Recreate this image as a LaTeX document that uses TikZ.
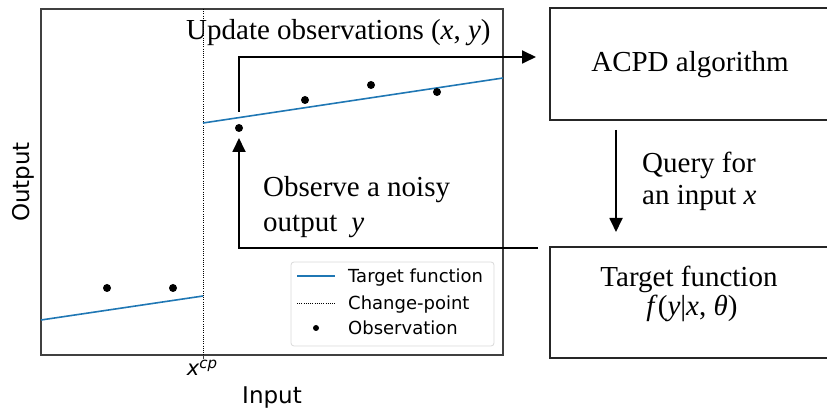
\documentclass[tikz,border=0pt]{standalone}
\usepackage{fontspec}
\setmainfont{Liberation Serif}
\newfontfamily\mplfont{DejaVu Sans}
\usetikzlibrary{arrows.meta}
\tikzset{
  serif/.style={font=\fontsize{29}{34}\selectfont, inner sep=0pt},
  mpl/.style={font=\mplfont\fontsize{23}{27}\selectfont, inner sep=0pt},
  legtext/.style={font=\mplfont\fontsize{18}{21}\selectfont, inner sep=0pt, anchor=base west},
  boxstyle/.style={draw=black!85, line width=1.6pt},
  flow/.style={draw=black, line width=1.8pt, -{Triangle[length=14pt,width=13pt]}},
  target/.style={draw={rgb,255:red,31;green,119;blue,180}, line width=1.6pt},
  cpline/.style={draw=black, line width=0.8pt, dash pattern=on 0.9pt off 1.3pt},
  obsdot/.style={circle, fill=black, inner sep=0pt, minimum size=8pt},
}
\begin{document}
\begin{tikzpicture}[x=1pt,y=-1pt]
\useasboundingbox (0,0) rectangle (827,411);
% plot frame
\draw[black!75, line width=1.3pt] (41,9) rectangle (503,355);
\draw[cpline] (203,9) -- (203,355);
\draw[black!75, line width=1pt] (203,355) -- (203,359);
% target function
\draw[target] (41,320) -- (203,296);
\draw[target] (203,123) -- (503,78);
% observations
\node[obsdot] (o1) at (107,288) {};
\node[obsdot] (o2) at (173,288) {};
\node[obsdot] (o3) at (239,128) {};
\node[obsdot] (o4) at (305,100) {};
\node[obsdot] (o5) at (371,85) {};
\node[obsdot] (o6) at (437,92) {};
% axis labels
\node[mpl, rotate=90] (ylab) at (23,182) {Output};
\node[mpl] (xlab) at (272,398) {Input};
\node[font=\mplfont\fontsize{21}{24}\selectfont, inner sep=0pt, anchor=base] (xcp) at (202,376) {\itshape x\raisebox{7pt}{\fontsize{15}{15}\selectfont cp}};
% legend
\draw[black!15, fill=white, line width=0.8pt, rounded corners=3pt] (291,262) rectangle (494,346);
\draw[target] (297,276) -- (335,276);
\draw[cpline] (297,303) -- (335,303);
\node[circle, fill=black, inner sep=0pt, minimum size=6pt] (legdot) at (316,328) {};
\node[legtext] (l1) at (348,283) {Target function};
\node[legtext] (l2) at (348,310) {Change-point};
\node[legtext] (l3) at (348,335) {Observation};
% boxes
\node[boxstyle, minimum width=280pt, minimum height=112pt, anchor=north west] (acpd) at (549,7) {};
\node[serif, anchor=base] (acpdtext) at (690,72) {ACPD algorithm};
\node[boxstyle, minimum width=280pt, minimum height=111pt, anchor=north west] (tf) at (549,246) {};
\node[serif, anchor=base] (tftext) at (689,287) {Target function};
\node[serif, anchor=base] (tfmath) at (692,316) {\textit{f}(\textit{y}|\textit{x}, \textit{θ})};
% texts
\node[serif, anchor=base west] (upd) at (186,40) {Update observations (\textit{x}, \textit{y})};
\node[serif, anchor=base west] (obs1) at (263,197) {Observe a noisy};
\node[serif, anchor=base west] (obs2) at (263,232) {output\hspace{14pt}\textit{y}};
\node[serif, anchor=base west] (q1) at (642,173) {Query for};
\node[serif, anchor=base west] (q2) at (642,205) {an input \textit{x}};
% connectors
\coordinate (updstart) at (239,112);
\coordinate (updend) at (536,57);
\draw[flow] (updstart) |- (updend);
\coordinate (qstart) at (616,130);
\coordinate (qend) at (616,232);
\draw[flow] (qstart) -- (qend);
\coordinate (nstart) at (538,248);
\coordinate (nend) at (239,138);
\draw[flow] (nstart) -| (nend);
\end{tikzpicture}
\end{document}
